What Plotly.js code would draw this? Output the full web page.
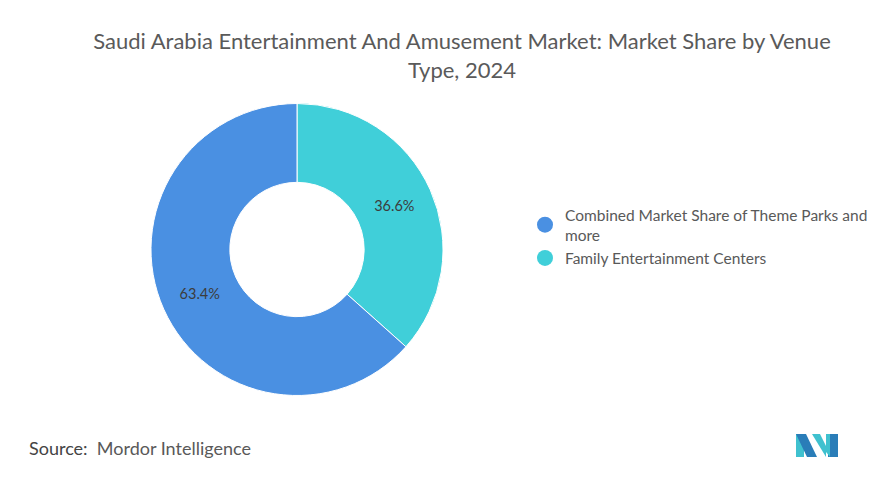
<!DOCTYPE html>
<html>
<head>
<meta charset="utf-8">
<script src="https://cdn.plot.ly/plotly-3.0.1.min.js"></script>
<style>
  html, body { margin: 0; padding: 0; background: #fff; }
  #plot { width: 891px; height: 483px; }
</style>
</head>
<body>
<div id="plot"></div>
<script>
  // Venue type share, 2024 (legend order)
  const venueLabels = [
    "Combined Market Share of Theme Parks and more",
    "Family Entertainment Centers",
  ];
  // legend wraps the long name onto two lines
  const legendNames = [
    "Combined Market Share of Theme Parks and<br>more",
    "Family Entertainment Centers",
  ];
  const venueShares = [63.4, 36.6];
  const venueColors = ["#4a90e2", "#40cfd9"];

  const W = 891, H = 483;
  // pixel -> paper helpers (margins are zero)
  const px = (x) => x / W;
  const py = (y) => 1 - y / H;

  const FONT = "Lato, 'Open Sans', sans-serif";

  // the ring starts at 12 o'clock with the teal slice going clockwise,
  // so feed the slices in reverse order
  const order = [1, 0];
  const pie = {
    type: "pie",
    labels: order.map((i) => venueLabels[i]),
    values: order.map((i) => venueShares[i]),
    hole: 0.46,
    sort: false,
    direction: "clockwise",
    rotation: 0,
    marker: { colors: order.map((i) => venueColors[i]), line: { color: "#ffffff", width: 1 } },
    textinfo: "percent",
    texttemplate: "%{percent:.1%}",
    textposition: "inside",
    insidetextorientation: "horizontal",
    textfont: { family: FONT, size: 14.5, color: "#3c3c3c" },
    hoverinfo: "label+percent",
    showlegend: false,
    domain: { x: [px(151), px(443)], y: [py(396), py(103)] },
  };

  // round legend markers: empty scatter traces, one per slice
  const legendTraces = legendNames.map((name, i) => ({
    type: "scatter", mode: "markers",
    x: [null], y: [null], name,
    marker: { color: venueColors[i], size: 16, symbol: "circle" },
    hoverinfo: "skip",
  }));

  // Mordor logo drawn as a few filled paths
  function logoPath(pts) {
    return "M" + pts.map((p) => `${px(p[0])},${py(p[1])}`).join(" L") + " Z";
  }
  const logoShapes = [
    { pts: [[796, 434], [804, 434], [804, 457], [796, 457]], c: "#3fc1cf" },
    { pts: [[796, 434], [806, 434], [817, 457], [807, 457]], c: "#2a7db8" },
    { pts: [[812, 434], [820, 434], [826, 446], [826, 457]], c: "#3fc1cf" },
    { pts: [[828, 434], [838, 434], [838, 457], [828, 457]], c: "#2a7db8" },
    { pts: [[826, 434], [830, 434], [830, 457], [826, 452]], c: "#3fc1cf" },
  ].map((s) => ({
    type: "path", xref: "paper", yref: "paper",
    path: logoPath(s.pts), fillcolor: s.c, line: { width: 0 },
  }));

  const layout = {
    width: W, height: H,
    margin: { l: 0, r: 0, t: 0, b: 0 },
    paper_bgcolor: "#fff",
    plot_bgcolor: "#fff",
    font: { family: FONT, color: "#555" },
    title: {
      text: "Saudi Arabia Entertainment And Amusement Market: Market Share by Venue<br>Type, 2024",
      font: { family: FONT, size: 22, color: "#5a5a5a" },
      x: px(462), xanchor: "center",
      y: py(49), yanchor: "top",
    },
    xaxis: { visible: false, domain: [0.99, 1] },
    yaxis: { visible: false, domain: [0.99, 1] },
    showlegend: true,
    legend: {
      x: px(525), y: py(198), xanchor: "left", yanchor: "top",
      font: { family: FONT, size: 15.5, color: "#595959" },
      itemsizing: "trace",
      itemwidth: 30,
      tracegroupgap: 2,
    },
    annotations: [
      {
        xref: "paper", yref: "paper",
        x: px(27), y: py(448), xanchor: "left", yanchor: "middle",
        text: "<span style='color:#444'>Source:</span>  Mordor Intelligence",
        showarrow: false,
        font: { family: FONT, size: 18, color: "#595959" },
      },
    ],
    shapes: logoShapes,
  };

  Plotly.newPlot("plot", [pie, ...legendTraces], layout, { displayModeBar: false });
</script>
</body>
</html>
